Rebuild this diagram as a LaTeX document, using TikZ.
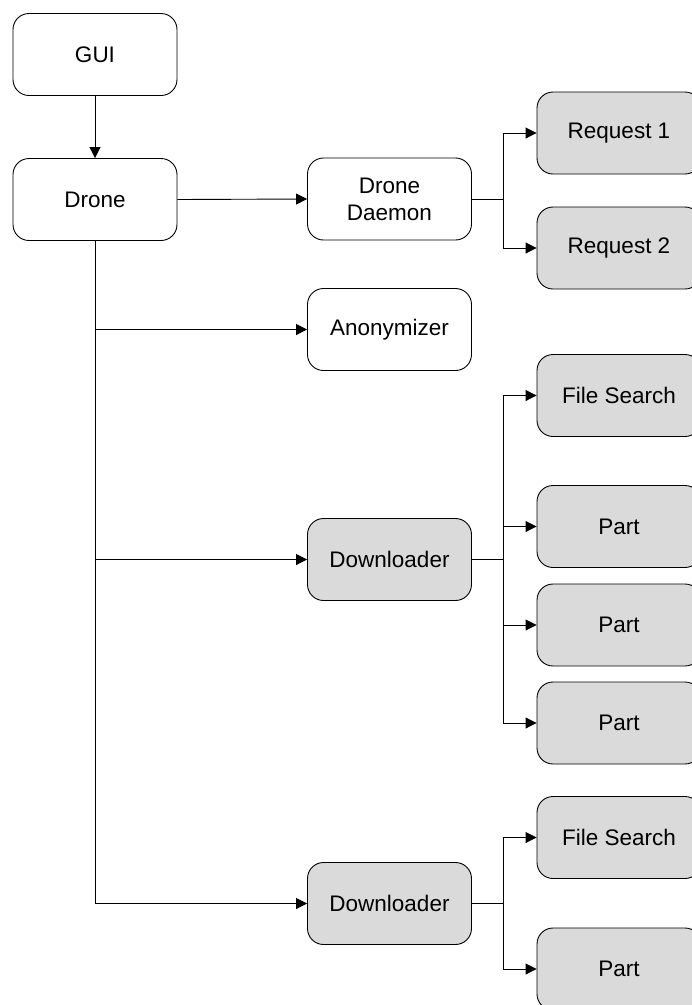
\documentclass[tikz,border=0pt]{standalone}
\usepackage{fontspec}
\setmainfont{Liberation Sans}
\usetikzlibrary{arrows.meta}
\begin{document}
\begin{tikzpicture}[x=1pt,y=-1pt,
  box/.style={draw=black, line width=0.9pt, rounded corners=16pt, minimum width=164pt, minimum height=82pt, inner sep=0pt, align=center, font=\fontsize{22.5}{27}\selectfont, fill=white},
  grey/.style={box, fill=boxgrey},
  arr/.style={draw=black, line width=0.9pt, -{Triangle[length=11pt,width=11pt]}}]
\definecolor{boxgrey}{HTML}{DADADA}
\useasboundingbox (0,0) rectangle (692,1005);
\clip (0,0) rectangle (692,1005);
\node[box] (gui) at (95,54.5) {GUI};
\node[box] (drone) at (95,199.5) {Drone};
\node[box] (daemon) at (389.5,199) {Drone\\Daemon};
\node[grey] (req1) at (619,133) {Request 1};
\node[grey] (req2) at (619,248) {Request 2};
\node[box] (anon) at (389.5,329.5) {Anonymizer};
\node[grey] (fs1) at (619,395.5) {File Search};
\node[grey] (down1) at (389.5,559.5) {Downloader};
\node[grey] (pa) at (619,526.5) {Part};
\node[grey] (pb) at (619,625) {Part};
\node[grey] (pc) at (619,723) {Part};
\node[grey] (fs2) at (619,837.5) {File Search};
\node[grey] (down2) at (389.5,903.5) {Downloader};
\node[grey] (pd) at (619,969) {Part};

\draw[arr] (gui.south) -- (drone.north);
\draw[arr] (drone.east) -- (daemon.west);
\draw[arr] (daemon.east) -- ++(31.5,0) |- (req1.west);
\draw[arr] (daemon.east) -- ++(31.5,0) |- (req2.west);
\draw[arr] (drone.south) |- (anon.west);
\draw[arr] (drone.south) |- (down1.west);
\draw[arr] (drone.south) |- (down2.west);
\draw[arr] (down1.east) -- ++(31.5,0) |- (fs1.west);
\draw[arr] (down1.east) -- ++(31.5,0) |- (pa.west);
\draw[arr] (down1.east) -- ++(31.5,0) |- (pb.west);
\draw[arr] (down1.east) -- ++(31.5,0) |- (pc.west);
\draw[arr] (down2.east) -- ++(31.5,0) |- (fs2.west);
\draw[arr] (down2.east) -- ++(31.5,0) |- (pd.west);
\end{tikzpicture}
\end{document}
